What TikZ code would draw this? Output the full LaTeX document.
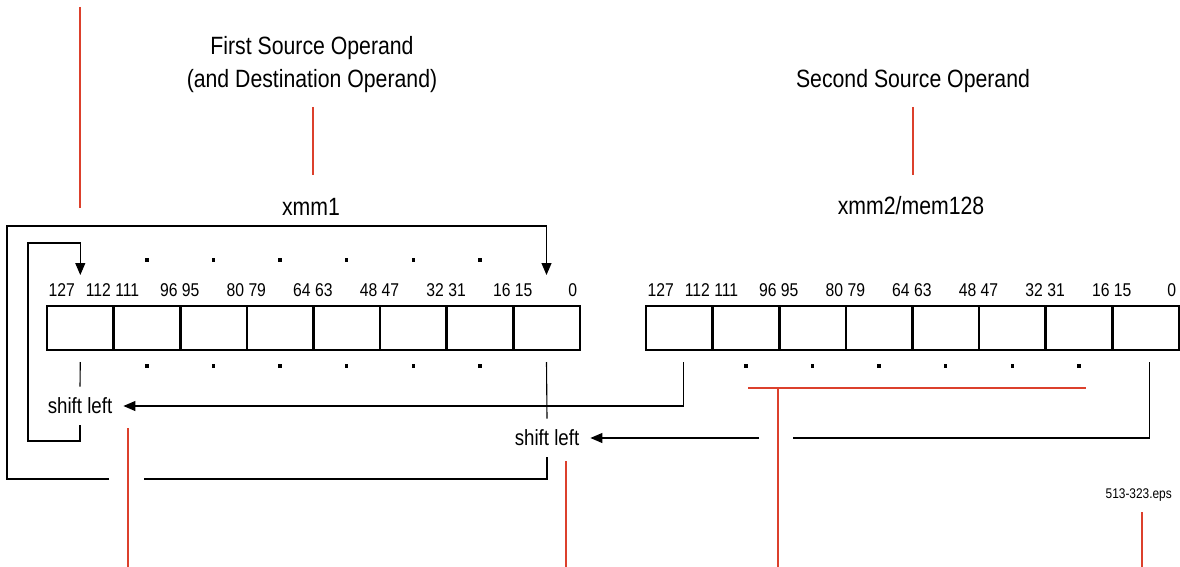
\documentclass[tikz,border=0pt]{standalone}
\usepackage{fontspec}
\setmainfont{Liberation Sans}[FakeStretch=0.85]
\usetikzlibrary{arrows.meta,calc}
\definecolor{callred}{RGB}{220,64,44}
\tikzset{
  cell/.style={draw, line width=2.6pt, minimum width=66.6pt, minimum height=44pt, inner sep=0pt, outer sep=0pt},
  bit/.style={font=\fontsize{18.5}{20}\selectfont, inner sep=0pt},
  title/.style={font=\fontsize{25}{30}\selectfont, inner sep=0pt},
  shiftlbl/.style={font=\fontsize{22}{26}\selectfont, inner xsep=11pt, inner ysep=11pt},
  conn/.style={line width=1.1pt},
  arr/.style={conn, -{Triangle[length=12pt,width=10pt]}},
  callout/.style={draw=callred, line width=2pt},
  dotmark/.style={fill, minimum size=3.4pt, inner sep=0pt}
}
\begin{document}
\begin{tikzpicture}[x=1pt,y=-1pt]
\useasboundingbox (0,0) rectangle (1180,567);

% registers
\foreach \a/\b [count=\i from 0] in {127/112,111/96,95/80,79/64,63/48,47/32,31/16,15/0}{
  \node[cell] (L\i) at ({47+66.6*(\i+0.5)},328) {};
  \node[cell] (R\i) at ({646+66.6*(\i+0.5)},328) {};
  \node[bit,anchor=base west] (lbLa\i) at ({47+66.6*\i+1.5},296) {\a};
  \node[bit,anchor=base east] (lbLb\i) at ({47+66.6*(\i+1)-2.5},296) {\b};
  \node[bit,anchor=base west] (lbRa\i) at ({646+66.6*\i+1.5},296) {\a};
  \node[bit,anchor=base east] (lbRb\i) at ({646+66.6*(\i+1)-2.5},296) {\b};
}
\foreach \i in {1,...,6}{
  \node[dotmark] (dLt\i) at ({47+66.6*(\i+0.5)},260) {};
  \node[dotmark] (dLb\i) at ({47+66.6*(\i+0.5)},366) {};
  \node[dotmark] (dRb\i) at ({646+66.6*(\i+0.5)},366) {};
}

% titles
\node[title,anchor=base] (t1a) at (312,55) {First Source Operand};
\node[title,anchor=base] (t1b) at (312,88) {(and Destination Operand)};
\node[title,anchor=base] (t2) at (913,88) {Second Source Operand};
\node[title,anchor=base] (x1) at (311,215) {xmm1};
\node[title,anchor=base] (x2) at (911,214) {xmm2/mem128};
\node[font=\fontsize{14}{16}\selectfont, inner sep=0pt, anchor=base east] (eps) at (1172,498) {513-323.eps};

% shift labels
\node[shiftlbl] (shA) at (80,406) {shift left};
\node[shiftlbl] (shB) at (547,438) {shift left};

% connectors
\draw[conn] ($(L0.south)+(0,12)$) -- (shA.north);
\draw[conn] ($(L7.south)+(0,12)$) -- (shB.north);
\draw[arr] (shA.south) |- (28,441) -- (28,243) -| ($(L0.north)+(0,-31)$);
\coordinate (gapR) at (144,479);
\coordinate (gapL) at (109,479);
\draw[conn] (shB.south) |- (gapR);
\draw[arr] (gapL) -- (7,479) -- (7,226) -| ($(L7.north)+(0,-31)$);
\draw[arr] ($(R0.south)+(4,12)$) |- (shA.east);
\coordinate (gap2R) at (793,438);
\coordinate (gap2L) at (759,438);
\draw[conn] ($(R7.south)+(4,12)$) |- (gap2R);
\draw[arr] (gap2L) -- (shB.east);

% red callout lines
\draw[callout] (80,7) -- (80,208);
\draw[callout] (313,107) -- (313,175);
\draw[callout] (913,107) -- (913,175);
\draw[callout] (748,388) -- (1086,388);
\draw[callout] (778,388) -- (778,567);
\draw[callout] (128,428) -- (128,567);
\draw[callout] (566,461) -- (566,567);
\draw[callout] (1142,512) -- (1142,567);
\end{tikzpicture}
\end{document}
